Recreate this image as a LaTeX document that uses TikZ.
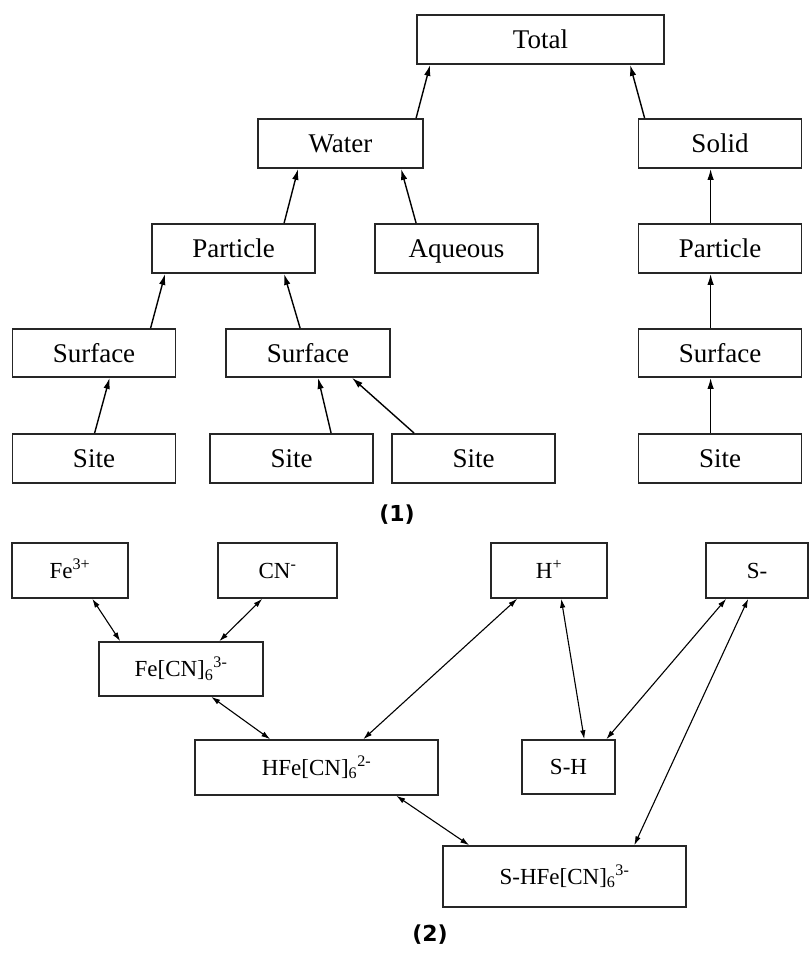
\documentclass[tikz,border=0pt]{standalone}
\usepackage{fontspec}
\setmainfont{Liberation Serif}
\newfontfamily\labfont{DejaVu Sans}
\usetikzlibrary{arrows.meta}
\newcommand\mysubsup[2]{\textsubscript{#1}\textsuperscript{#2}}
\begin{document}
\begin{tikzpicture}[x=1pt,y=-1pt,
  boxa/.style={draw=black!85, line width=1.8pt, minimum width=163pt, minimum height=49pt,
    inner sep=0pt, text height=24pt, text depth=6pt, font=\fontsize{27}{30}\selectfont},
  boxb/.style={draw=black!85, line width=1.5pt, minimum height=55pt,
    inner sep=0pt, text height=20.5pt, text depth=5pt, font=\fontsize{23}{26}\selectfont},
  arra/.style={line width=1.4pt, -{Latex[length=11pt,width=6.5pt]}},
  arrb/.style={line width=1.1pt, {Latex[length=9pt,width=5.5pt]}-{Latex[length=9pt,width=5.5pt]}},
  lab/.style={font=\labfont\bfseries\fontsize{22}{24}\selectfont}]
\useasboundingbox (0,0) rectangle (810,953);
\fill[white] (0,0) rectangle (810,953);
% ---------- part (1)
\node[boxa, minimum width=247pt] (total) at (540.5,39.5) {Total};
\node[boxa, minimum width=165pt] (water) at (340.5,143.5) {Water};
\node[boxa] (solid) at (720,143.5) {Solid};
\node[boxa] (partL) at (233.5,248.5) {Particle};
\node[boxa] (aqueous) at (456.5,248.5) {Aqueous};
\node[boxa] (partR) at (720,248.5) {Particle};
\node[boxa, minimum height=48pt] (surf1) at (94,353) {Surface};
\node[boxa, minimum height=48pt, minimum width=164pt] (surf2) at (308,353) {Surface};
\node[boxa, minimum height=48pt] (surfR) at (720,353) {Surface};
\node[boxa] (site1) at (94,458.5) {Site};
\node[boxa] (site2) at (291.5,458.5) {Site};
\node[boxa] (site3) at (473.5,458.5) {Site};
\node[boxa] (siteR) at (720,458.5) {Site};
\node[lab] (l1) at (397,515) {(1)};

\draw[arra] ([xshift=159pt]water.north west) -- ([xshift=14pt]total.south west);
\draw[arra] ([xshift=7pt]solid.north west) -- ([xshift=214pt]total.south west);
\draw[arra] ([xshift=133pt]partL.north west) -- ([xshift=41pt]water.south west);
\draw[arra] ([xshift=42pt]aqueous.north west) -- ([xshift=144pt]water.south west);
\draw[arra] ([xshift=73pt]partR.north west) -- ([xshift=73pt]solid.south west);
\draw[arra] ([xshift=139pt]surf1.north west) -- ([xshift=14pt]partL.south west);
\draw[arra] ([xshift=75pt]surf2.north west) -- ([xshift=133pt]partL.south west);
\draw[arra] ([xshift=73pt]surfR.north west) -- ([xshift=73pt]partR.south west);
\draw[arra] ([xshift=83pt]site1.north west) -- ([xshift=98pt]surf1.south west);
\draw[arra] ([xshift=122pt]site2.north west) -- ([xshift=93pt]surf2.south west);
\draw[arra] ([xshift=23pt]site3.north west) -- ([xshift=127pt]surf2.south west);
\draw[arra] ([xshift=73pt]siteR.north west) -- ([xshift=73pt]surfR.south west);

% ---------- part (2)
\node[boxb, minimum width=116pt] (fe) at (70,570.5) {Fe\textsuperscript{3+}};
\node[boxb, minimum width=119pt] (cn) at (277.5,570.5) {CN\textsuperscript{-}};
\node[boxb, minimum width=116pt] (hp) at (549,570.5) {H\textsuperscript{+}};
\node[boxb, minimum width=102pt] (sm) at (757,570.5) {S-};
\node[boxb, minimum width=164pt, minimum height=54pt] (fecn) at (181,669) {Fe[CN]\mysubsup{6}{3-}};
\node[boxb, minimum width=243pt] (hfe) at (316.5,767.5) {HFe[CN]\mysubsup{6}{2-}};
\node[boxb, minimum width=93pt, minimum height=54pt] (sh) at (568.5,767) {S-H};
\node[boxb, minimum width=243pt, minimum height=61pt] (shfe) at (564.5,876.5) {S-HFe[CN]\mysubsup{6}{3-}};
\node[lab] (l2) at (430,935) {(2)};

\draw[arrb] ([xshift=81pt]fe.south west) -- ([xshift=22pt]fecn.north west);
\draw[arrb] ([xshift=45pt]cn.south west) -- ([xshift=121pt]fecn.north west);
\draw[arrb] ([xshift=113pt]fecn.south west) -- ([xshift=76pt]hfe.north west);
\draw[arrb] ([xshift=27pt]hp.south west) -- ([xshift=169pt]hfe.north west);
\draw[arrb] ([xshift=71pt]hp.south west) -- ([xshift=63pt]sh.north west);
\draw[arrb] ([xshift=21pt]sm.south west) -- ([xshift=85pt]sh.north west);
\draw[arrb] ([xshift=43pt]sm.south west) -- ([xshift=192pt]shfe.north west);
\draw[arrb] ([xshift=202pt]hfe.south west) -- ([xshift=27pt]shfe.north west);
\end{tikzpicture}
\end{document}
